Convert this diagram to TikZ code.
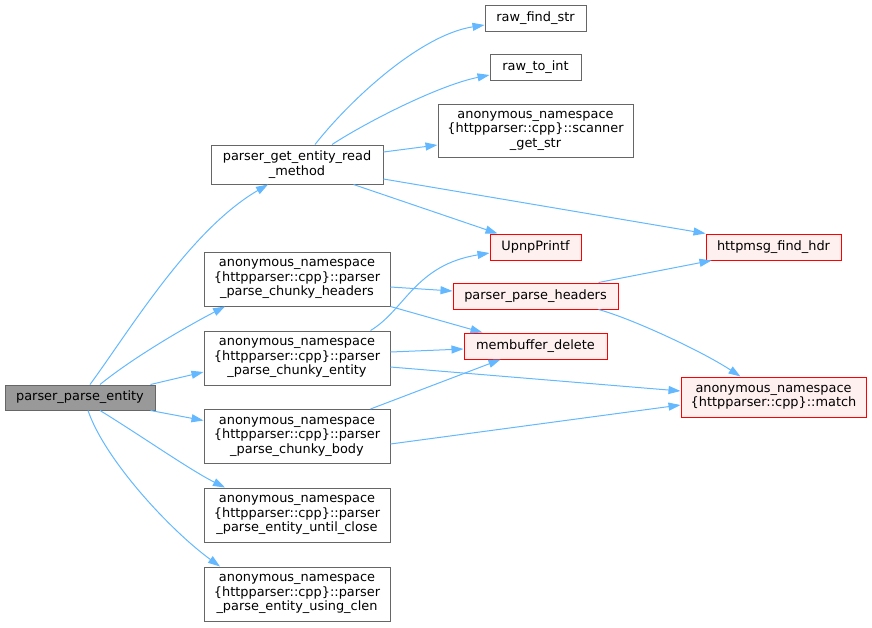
\documentclass[tikz,border=0pt]{standalone}
\usepackage{fontspec}
\setmainfont{DejaVu Sans}
\usetikzlibrary{arrows.meta}
\definecolor{edgeblue}{HTML}{63B8FF}
\definecolor{boxgray}{HTML}{666666}
\definecolor{mainfill}{HTML}{999999}
\definecolor{redfill}{HTML}{FFF0F0}

\begin{document}
\begin{tikzpicture}[x=1pt,y=-1pt,
	font=\fontsize{12.9}{14.5}\selectfont,
	fn/.style={draw=boxgray,fill=white,line width=1pt,inner sep=0pt,align=center,minimum height=26pt},
	fnred/.style={fn,draw=red,fill=redfill},
	fnmain/.style={fn,fill=mainfill},
	fnns/.style={fn,minimum width=186pt,minimum height=54pt},
	call/.style={draw=edgeblue,line width=1pt,-{Triangle[length=12pt,width=8pt]}}]

	\useasboundingbox (0,0) rectangle (872,627);

	% callers side
	\node[fnmain,minimum width=150pt,minimum height=25pt] (ppe) at (80,397.5) {parser\_parse\_entity};
	\node[fn,minimum width=172pt,minimum height=39pt] (grm) at (297,164.5) {parser\_get\_entity\_read\\\_method};

	\node[fnns] (pch) at (297,279) {anonymous\_namespace\\\{httpparser::cpp\}::parser\\\_parse\_chunky\_headers};
	\node[fnns] (pce) at (297,358) {anonymous\_namespace\\\{httpparser::cpp\}::parser\\\_parse\_chunky\_entity};
	\node[fnns] (pcb) at (297,436.5) {anonymous\_namespace\\\{httpparser::cpp\}::parser\\\_parse\_chunky\_body};
	\node[fnns] (puc) at (297,515) {anonymous\_namespace\\\{httpparser::cpp\}::parser\\\_parse\_entity\_until\_close};
	\node[fnns] (pcl) at (297,594) {anonymous\_namespace\\\{httpparser::cpp\}::parser\\\_parse\_entity\_using\_clen};

	% callees
	\node[fn,minimum width=101pt] (rfs) at (535.5,18) {raw\_find\_str};
	\node[fn,minimum width=91pt] (rti) at (535.5,67) {raw\_to\_int};
	\node[fn,minimum width=195pt,minimum height=53pt] (sgs) at (535.5,130.5) {anonymous\_namespace\\\{httpparser::cpp\}::scanner\\\_get\_str};
	\node[fnred,minimum width=91pt] (upf) at (535.5,247) {UpnpPrintf};
	\node[fnred,minimum width=135pt] (hfh) at (773.5,247) {httpmsg\_find\_hdr};
	\node[fnred,minimum width=165pt] (pph) at (535.5,296) {parser\_parse\_headers};
	\node[fnred,minimum width=143pt] (mbd) at (535.5,346) {membuffer\_delete};
	\node[fnred,minimum width=185pt,minimum height=40pt] (mat) at (773.5,397) {anonymous\_namespace\\\{httpparser::cpp\}::match};

	% edges from parser_parse_entity
	\draw[call] ([xshift=10pt]ppe.north) .. controls (130,330) and (190,230) .. ([xshift=-29pt]grm.south);
	\draw[call] ([xshift=20pt]ppe.north) .. controls (130,360) and (180,330) .. ([xshift=-72pt]pch.south);
	\draw[call] ([xshift=-5pt]ppe.north east) -- ([yshift=-14pt]pce.west);
	\draw[call] ([xshift=-5pt]ppe.south east) -- ([yshift=16pt]pcb.west);
	\draw[call] ([xshift=20pt]ppe.south) .. controls (140,435) and (190,470) .. ([xshift=-72pt]puc.north);
	\draw[call] ([xshift=8pt]ppe.south) .. controls (105,460) and (170,530) .. ([xshift=-77pt]pcl.north);

	% edges from parser_get_entity_read_method
	\draw[call] ([xshift=18pt]grm.north) .. controls (350,100) and (420,35) .. ([yshift=-7pt]rfs.west);
	\draw[call] ([xshift=35pt]grm.north) .. controls (370,120) and (440,85) .. ([yshift=-8pt]rti.west);
	\draw[call] ([yshift=12.5pt]grm.east) -- ([yshift=-14.5pt]sgs.west);
	\draw[call] ([yshift=-14.5pt]grm.east) -- (hfh.north west);
	\draw[call] ([xshift=-30pt]grm.south east) -- ([xshift=8pt]upf.north west);

	% edges from the chunky parsers
	\draw[call] ([yshift=-8pt]pch.east) -- ([yshift=5pt]pph.west);
	\draw[call] (pch.south east) -- ([xshift=19pt]mbd.north west);
	\draw[call] ([xshift=-20pt]pce.north east) .. controls (405,310) and (415,265) .. ([yshift=-6pt]upf.west);
	\draw[call] ([yshift=6pt]pce.east) -- ([yshift=-3pt]mbd.west);
	\draw[call] ([yshift=-9pt]pce.east) -- ([yshift=6pt]mat.west);
	\draw[call] ([xshift=-20pt]pcb.north east) -- ([xshift=37pt]mbd.south west);
	\draw[call] ([yshift=-7.5pt]pcb.east) -- ([yshift=-8pt]mat.west);

	% edges from parser_parse_headers
	\draw[call] ([xshift=-20pt]pph.north east) -- ([xshift=6pt]hfh.south west);
	\draw[call] ([xshift=-20pt]pph.south east) .. controls (630,318) and (700,350) .. ([xshift=60pt]mat.north west);

\end{tikzpicture}
\end{document}
